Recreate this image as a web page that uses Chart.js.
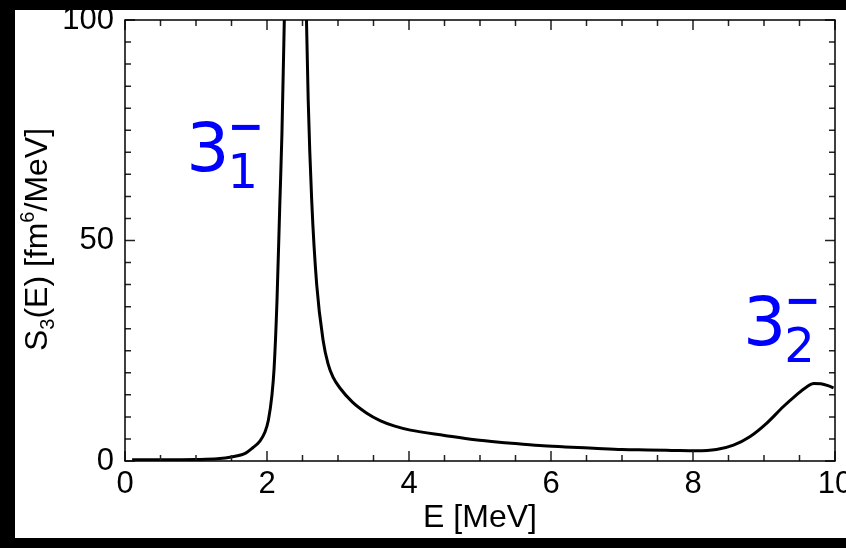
<!DOCTYPE html>
<html>
<head>
<meta charset="utf-8">
<script src="https://cdn.jsdelivr.net/npm/chart.js@4/dist/chart.umd.min.js"></script>
<style>
  body { margin: 0; background: #000; }
  #frame { position: absolute; left: 0; top: 0; width: 846px; height: 548px; background: #000; overflow: hidden; }
  #paper { position: absolute; left: 15px; top: 10px; width: 831px; height: 528px; background: #fff; }
  #paper canvas { position: absolute; left: 0; top: 0; }
</style>
</head>
<body>
<div id="frame">
  <div id="paper"><canvas id="summary" width="831" height="528"></canvas></div>
</div>
<script>
// strength function S3(E)
const energy = [0.1, 0.5, 1.0, 1.3, 1.5, 1.7, 1.8, 1.9, 1.97, 2.02, 2.07, 2.1, 2.14, 2.18, 2.21, 2.25,
  2.32, 2.4, 2.48, 2.55, 2.58, 2.63, 2.7, 2.79, 2.86, 2.93, 3.03, 3.2, 3.4, 3.6, 3.8, 4.02, 4.5,
  4.93, 5.4, 5.84, 6.2, 6.6, 7.0, 7.36, 7.7, 8.04, 8.33, 8.57, 8.8, 9.04, 9.27, 9.45, 9.6, 9.7, 9.8, 9.9, 9.98]
const strength = [0.3, 0.3, 0.35, 0.5, 0.9, 1.8, 3.0, 4.5, 6.5, 9.3, 15, 21, 36, 58, 74, 105,
  160, 200, 160, 105, 82, 59, 40, 27.4, 22, 19, 16.5, 13.4, 10.9, 9.1, 7.9, 7.0, 5.8,
  4.8, 4.1, 3.5, 3.2, 2.9, 2.6, 2.5, 2.4, 2.3, 2.6, 3.6, 5.5, 8.6, 12.3, 14.9, 16.8, 17.6, 17.5, 17.1, 16.6]

const xLabels = [0, 2, 4, 6, 8, 10]
const yLabels = [0, 50, 100]

// state labels: main digit, subscript, and where they sit (E, S)
const states = [
  { main: '3', sub: '1', sup: '\u2212', e: 0.92, s: 65.8 },
  { main: '3', sub: '2', sup: '\u2212', e: 8.76, s: 26.4 }
]

const FONT = "'Liberation Sans', Arial, sans-serif"

const frameTicks = {
  id: 'frameTicks',
  afterDraw(chart) {
    const { ctx, chartArea: { left, right, top, bottom }, scales: { x, y } } = chart
    ctx.save()
    ctx.strokeStyle = '#222'
    ctx.lineWidth = 1.5
    x.ticks.forEach(t => {
      const px = x.getPixelForValue(t.value)
      const len = xLabels.includes(t.value) ? 10 : 6
      ctx.beginPath()
      ctx.moveTo(px, bottom); ctx.lineTo(px, bottom - len)
      ctx.moveTo(px, top); ctx.lineTo(px, top + len)
      ctx.stroke()
    })
    y.ticks.forEach(t => {
      const py = y.getPixelForValue(t.value)
      const len = yLabels.includes(t.value) ? 10 : 6
      ctx.beginPath()
      ctx.moveTo(left, py); ctx.lineTo(left + len, py)
      ctx.moveTo(right, py); ctx.lineTo(right - len, py)
      ctx.stroke()
    })
    ctx.strokeStyle = '#000'
    ctx.lineWidth = 1.5
    ctx.strokeRect(left, top, right - left, bottom - top)

    // y title with sub/superscripts
    ctx.translate(32, (top + bottom) / 2 - 1)
    ctx.rotate(-Math.PI / 2)
    ctx.fillStyle = '#000'
    ctx.textBaseline = 'alphabetic'
    const big = '32px ' + FONT, small = '20px ' + FONT
    const parts = [['S', big, 0], ['3', small, 7], ['(E) [fm', big, 0], ['6', small, -13], ['/MeV]', big, 0]]
    let w = 0
    parts.forEach(p => { ctx.font = p[1]; w += ctx.measureText(p[0]).width })
    let cx = -w / 2
    parts.forEach(p => {
      ctx.font = p[1]
      ctx.fillText(p[0], cx, p[2])
      cx += ctx.measureText(p[0]).width
    })
    ctx.restore()

    // blue state labels
    ctx.save()
    ctx.fillStyle = '#0000ff'
    ctx.textBaseline = 'alphabetic'
    states.forEach(st => {
      const px = x.getPixelForValue(st.e)
      const py = y.getPixelForValue(st.s)
      ctx.font = "68px 'DejaVu Sans', sans-serif"
      ctx.fillText(st.main, px - 4, py)
      const mw = ctx.measureText(st.main).width
      ctx.font = "48px 'DejaVu Sans', sans-serif"
      ctx.fillText(st.sub, px + mw - 6, py + 17)
      ctx.font = "bold 44px 'DejaVu Sans', sans-serif"
      ctx.fillText(st.sup, px + mw - 6, py - 30)
    })
    ctx.restore()
  }
}

const ctxEl = document.getElementById('summary')
const lineChart = new Chart(ctxEl, {
  type: 'line',
  data: {
    datasets: [{
      data: energy.map((e, i) => ({ x: e, y: strength[i] })),
      borderColor: '#000',
      borderWidth: 3,
      pointRadius: 0,
      fill: false,
      cubicInterpolationMode: 'monotone'
    }]
  },
  options: {
    responsive: false,
    animation: false,
    layout: { padding: { top: 10, right: 11, left: 0, bottom: 0 } },
    plugins: { legend: { display: false }, tooltip: { enabled: false } },
    scales: {
      x: {
        type: 'linear',
        min: 0, max: 10,
        grid: { drawOnChartArea: false, drawTicks: false },
        border: { display: false },
        ticks: {
          stepSize: 0.5, autoSkip: false, maxRotation: 0, padding: 5,
          color: '#000', font: { family: FONT, size: 31 },
          callback: v => xLabels.includes(v) ? v : ''
        },
        title: { display: true, text: 'E [MeV]', color: '#000', font: { family: FONT, size: 32 }, padding: { top: 0, bottom: 1 } },
        afterFit: s => { s.height = 77; s.paddingLeft = 0; s.paddingRight = 0 }
      },
      y: {
        min: 0, max: 100,
        grid: { drawOnChartArea: false, drawTicks: false },
        border: { display: false },
        ticks: {
          stepSize: 5, autoSkip: false, padding: 11,
          color: '#000', font: { family: FONT, size: 31 },
          callback: v => yLabels.includes(v) ? v : ''
        },
        afterFit: s => { s.width = 110; s.paddingTop = 0; s.paddingBottom = 0 }
      }
    }
  },
  plugins: [frameTicks]
})
</script>
</body>
</html>
